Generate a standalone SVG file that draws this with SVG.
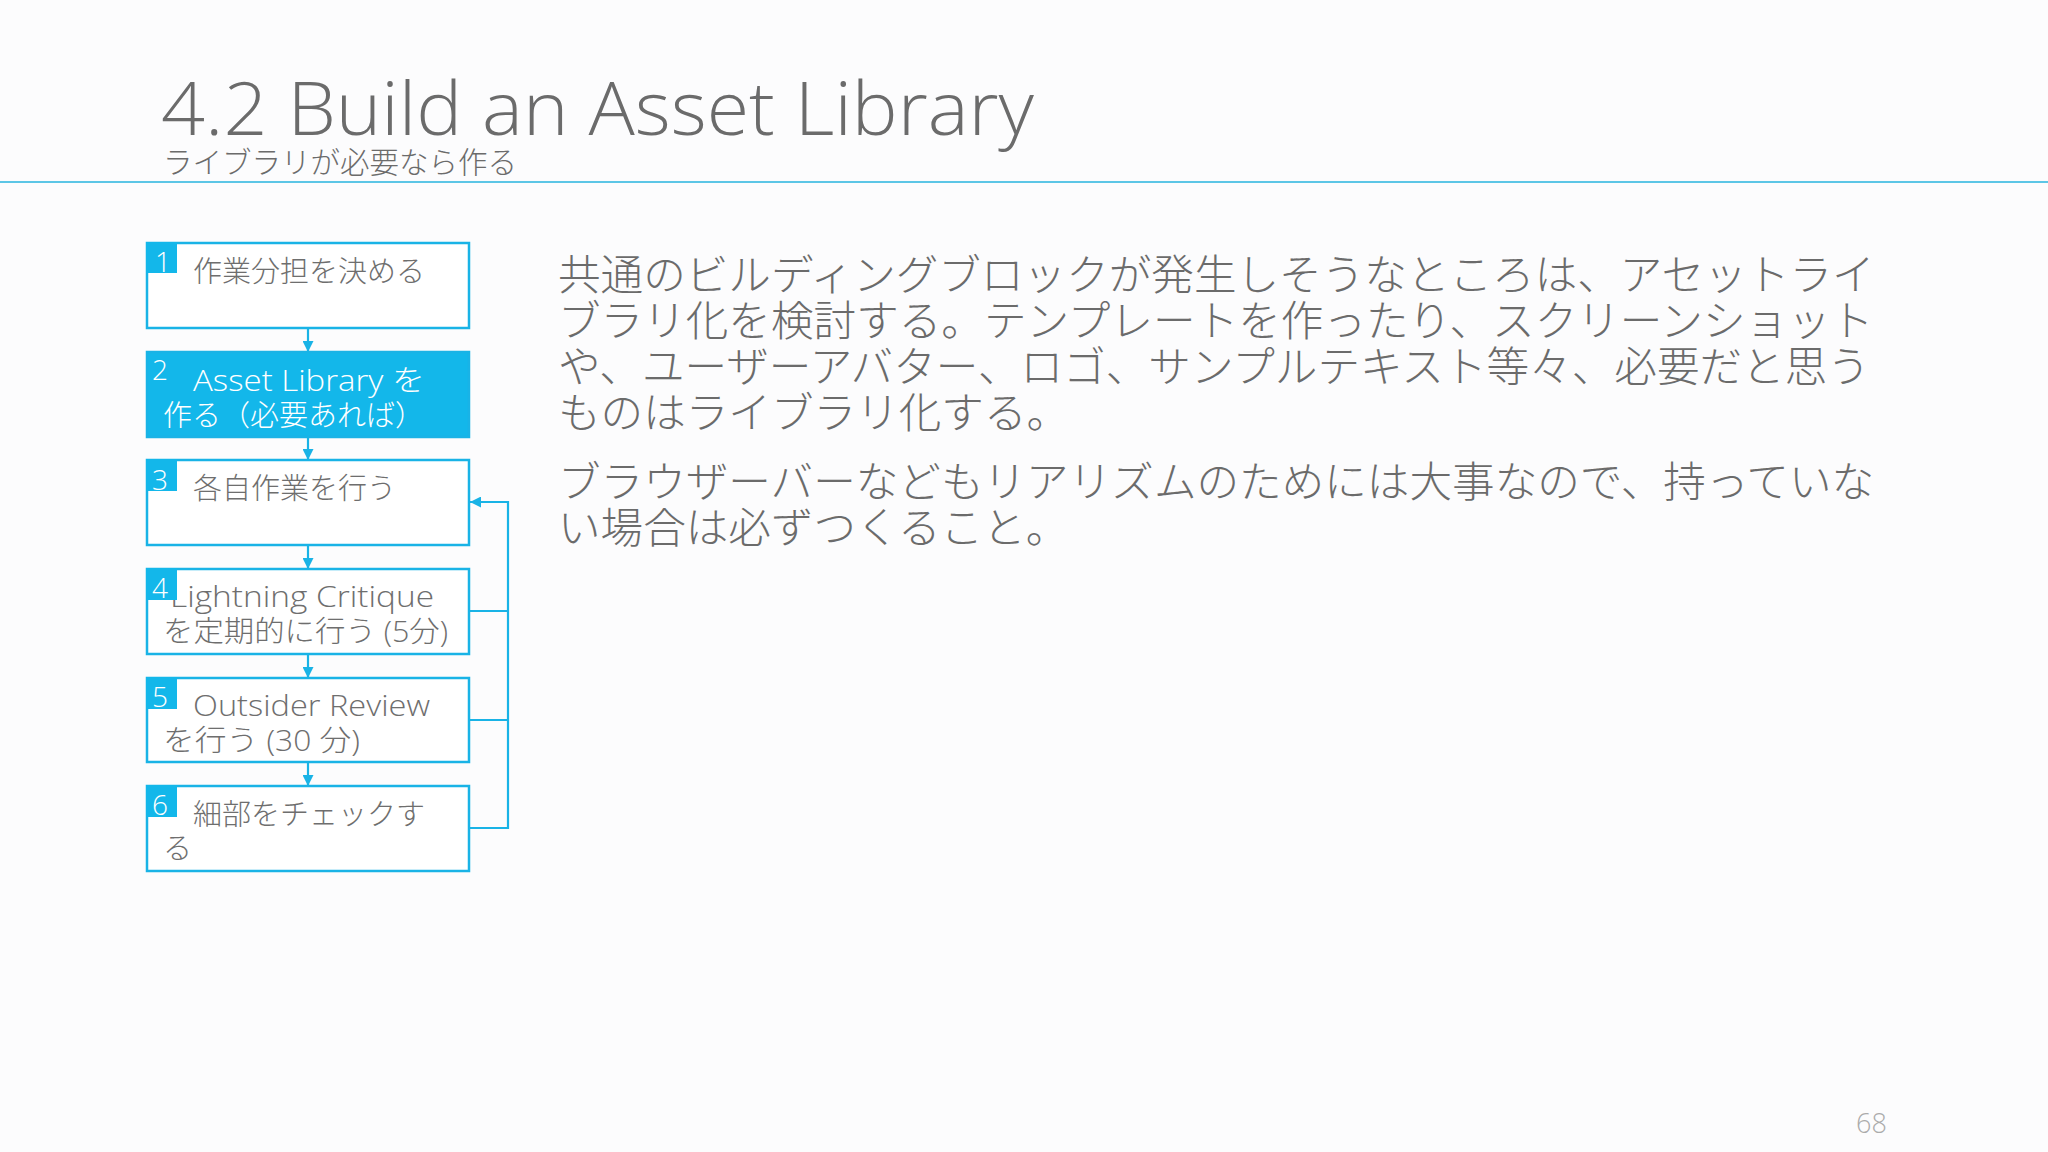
<svg xmlns="http://www.w3.org/2000/svg" width="2048" height="1152" viewBox="0 0 2048 1152">
<defs>
<style>
.bg{fill:#fcfcfd}
.t{font-family:"Noto Sans CJK JP","Liberation Sans",sans-serif;fill:#6b6b6b}
.lat{font-family:"Open Sans","Noto Sans CJK JP","Liberation Sans",sans-serif}
.title{font-size:74px;font-weight:300}
.sub{font-size:29.5px;font-weight:300}
.body{font-size:42.6px;font-weight:300}
.bt{font-size:29px;font-weight:300;fill:#6e6e6e}
.wt{fill:#ffffff}
.num{font-family:"Open Sans","Noto Sans CJK JP","Liberation Sans",sans-serif;font-size:28px;font-weight:300;fill:#ffffff}
.box{fill:#ffffff;stroke:#19b3e6;stroke-width:2.5}
.boxf{fill:#13b7ea;stroke:#19b3e6;stroke-width:2.5}
.badge{fill:#13b7ea}
.ln{fill:none;stroke:#19b3e6;stroke-width:2.2}
.pg{font-family:"Open Sans","Liberation Sans",sans-serif;font-size:27px;font-weight:300;fill:#ababab}
</style>
<marker id="ah" viewBox="0 0 10 10" refX="10" refY="5" markerWidth="5" markerHeight="5" markerUnits="strokeWidth" orient="auto">
<path d="M0,0 L10,5 L0,10 Z" fill="#19b3e6"/>
</marker>
</defs>
<rect class="bg" x="0" y="0" width="2048" height="1152"/>
<g id="header">
<text class="t lat title" x="161" y="135" textLength="873" lengthAdjust="spacingAndGlyphs">4.2 Build an Asset Library</text>
<text class="t sub" x="163" y="173">ライブラリが必要なら作る</text>
<line x1="0" y1="182" x2="2048" y2="182" stroke="#5cc6e6" stroke-width="2"/>
</g>
<g id="connectors">
<line class="ln" x1="308" y1="328" x2="308" y2="352" marker-end="url(#ah)"/>
<line class="ln" x1="308" y1="437" x2="308" y2="460" marker-end="url(#ah)"/>
<line class="ln" x1="308" y1="545" x2="308" y2="569" marker-end="url(#ah)"/>
<line class="ln" x1="308" y1="654" x2="308" y2="678" marker-end="url(#ah)"/>
<line class="ln" x1="308" y1="762" x2="308" y2="786" marker-end="url(#ah)"/>
<polyline class="ln" points="469,611 508,611"/>
<polyline class="ln" points="469,720 508,720"/>
<polyline class="ln" points="469,828 508,828 508,502 470,502" marker-end="url(#ah)"/>
</g>
<g id="node1">
<rect class="box" x="147" y="243" width="322" height="85"/>
<text class="t bt" x="193" y="282">作業分担を決める</text>
<rect class="badge" x="146" y="242" width="31" height="31"/>
<text class="num" x="155" y="272">1</text>
</g>
<g id="node2">
<rect class="boxf" x="147" y="352" width="322" height="85"/>
<text class="t lat bt wt" x="193" y="391" textLength="232" lengthAdjust="spacingAndGlyphs">Asset Library を</text>
<text class="t bt wt" x="163" y="426">作る（必要あれば）</text>
<text class="num" x="152" y="380">2</text>
</g>
<g id="node3">
<rect class="box" x="147" y="460" width="322" height="85"/>
<text class="t bt" x="193" y="499">各自作業を行う</text>
<rect class="badge" x="146" y="459" width="31" height="32"/>
<text class="num" x="152" y="490">3</text>
</g>
<g id="node4">
<rect class="box" x="147" y="569" width="322" height="85"/>
<text class="t lat bt" x="170" y="607" textLength="264" lengthAdjust="spacingAndGlyphs">Lightning Critique</text>
<text class="t lat bt" x="163" y="642" textLength="285" lengthAdjust="spacingAndGlyphs">を定期的に行う (5分)</text>
<rect class="badge" x="146" y="568" width="31" height="32"/>
<text class="num" x="152" y="598">4</text>
</g>
<g id="node5">
<rect class="box" x="147" y="678" width="322" height="84"/>
<text class="t lat bt" x="193" y="716" textLength="237" lengthAdjust="spacingAndGlyphs">Outsider Review</text>
<text class="t lat bt" x="163" y="751" textLength="197" lengthAdjust="spacingAndGlyphs">を行う (30 分)</text>
<rect class="badge" x="146" y="677" width="31" height="32"/>
<text class="num" x="152" y="707">5</text>
</g>
<g id="node6">
<rect class="box" x="147" y="786" width="322" height="85"/>
<text class="t bt" x="193" y="825">細部をチェックす</text>
<text class="t bt" x="163" y="859">る</text>
<rect class="badge" x="146" y="785" width="31" height="32"/>
<text class="num" x="152" y="815">6</text>
</g>
<g id="body">
<text class="t body" x="558" y="290">共通のビルディングブロックが発生しそうなところは、アセットライ</text>
<text class="t body" x="558" y="336">ブラリ化を検討する。テンプレートを作ったり、スクリーンショット</text>
<text class="t body" x="558" y="382">や、ユーザーアバター、ロゴ、サンプルテキスト等々、必要だと思う</text>
<text class="t body" x="558" y="428">ものはライブラリ化する。</text>
<text class="t body" x="558" y="497">ブラウザーバーなどもリアリズムのためには大事なので、持っていな</text>
<text class="t body" x="558" y="543">い場合は必ずつくること。</text>
</g>
<text class="pg" x="1856" y="1133">68</text>
</svg>
